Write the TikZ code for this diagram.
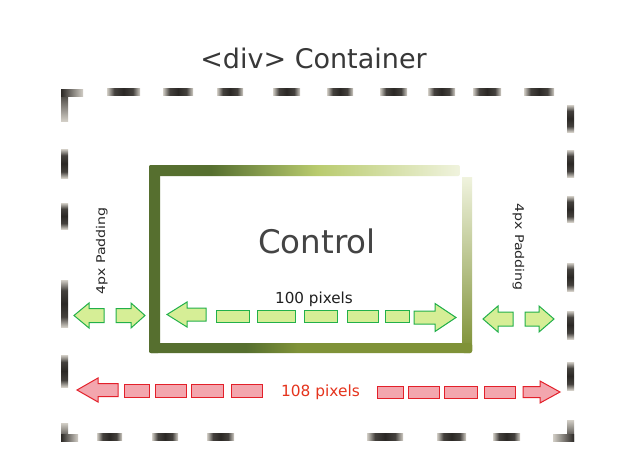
\documentclass[tikz,border=0pt]{standalone}
\usepackage{fontspec}
\setmainfont{DejaVu Sans}
\definecolor{olD}{HTML}{566F2F}
\definecolor{olM}{HTML}{7F9238}
\definecolor{olL}{HTML}{B9CB6E}
\definecolor{olW}{HTML}{F0F3DE}
\definecolor{dC}{HTML}{2B2825}
\definecolor{dE}{HTML}{D2CEC6}
\definecolor{gFill}{HTML}{D6EE96}
\definecolor{gLine}{HTML}{22B04A}
\definecolor{rFill}{HTML}{F3A6AE}
\definecolor{rLine}{HTML}{E3202A}
\definecolor{titleC}{HTML}{383838}
\definecolor{ctrlC}{HTML}{444444}
\definecolor{redT}{HTML}{E5341D}
\pgfdeclarehorizontalshading{topbar}{100bp}{color(0bp)=(olD); color(35bp)=(olD); color(52bp)=(olL); color(75bp)=(olW); color(100bp)=(olW)}
\pgfdeclarehorizontalshading{botbar}{100bp}{color(0bp)=(olD); color(40bp)=(olD); color(48bp)=(olM); color(100bp)=(olM)}
\pgfdeclarehorizontalshading{blurdash}{100bp}{color(0bp)=(dE); color(25bp)=(dE); color(36bp)=(dC!85!dE); color(50bp)=(dC); color(64bp)=(dC!85!dE); color(75bp)=(dE); color(100bp)=(dE)}
\newcommand\hdsh[3]{\shade[shading=blurdash] (#1,#3-3.5) rectangle (#2,#3+3.5);}
\newcommand\vdsh[3]{\shade[shading=blurdash,shading angle=90] (#3-3.5,#1) rectangle (#3+3.5,#2);}
% left-pointing block arrow: tip x, tail x, y, head length, half height, half body
\newcommand\blockL[6]{\filldraw (#1,#3) -- (#1+#4,#3-#5) -- (#1+#4,#3-#6) -- (#2,#3-#6) -- (#2,#3+#6) -- (#1+#4,#3+#6) -- (#1+#4,#3+#5) -- cycle;}
% right-pointing block arrow: tail x, tip x, y, head length, half height, half body
\newcommand\blockR[6]{\filldraw (#2,#3) -- (#2-#4,#3-#5) -- (#2-#4,#3-#6) -- (#1,#3-#6) -- (#1,#3+#6) -- (#2-#4,#3+#6) -- (#2-#4,#3+#5) -- cycle;}
\tikzset{
  garrow/.style={fill=gFill, draw=gLine, line width=1pt, line join=miter},
  rarrow/.style={fill=rFill, draw=rLine, line width=1pt, line join=miter},
  lbl/.style={inner sep=0pt, anchor=base}
}
\begin{document}
\begin{tikzpicture}[x=1pt,y=-1pt]
\useasboundingbox (0,0) rectangle (640,471);
\fill[white] (0,0) rectangle (640,471);

% title
\node[lbl, font=\fontsize{27}{32}\selectfont, text=titleC] (title) at (313.5,68) {<div> Container};

% dashed container: corners
\shade[top color=dC, bottom color=dE] (61,89) rectangle (68,121);
\shade[left color=dC, right color=dE] (61,89) rectangle (83,96);
\shade[top color=dE, bottom color=dC] (61,423) rectangle (68,441);
\shade[left color=dC, right color=dE] (61,434) rectangle (78,441);
\shade[top color=dE, bottom color=dC] (567,420) rectangle (574,441);
\shade[left color=dE, right color=dC] (553,434) rectangle (574,441);
% top side
\hdsh{107}{140}{92}\hdsh{163}{193}{92}\hdsh{217}{243}{92}\hdsh{273}{300}{92}\hdsh{327}{353}{92}
\hdsh{380}{407}{92}\hdsh{428}{455}{92}\hdsh{473}{501}{92}\hdsh{524}{554}{92}
% left side
\vdsh{149}{178}{64.5}\vdsh{203}{229}{64.5}\vdsh{280}{327}{64.5}\vdsh{355}{387}{64.5}
% right side
\vdsh{105}{132}{570.5}\vdsh{150}{177}{570.5}\vdsh{196}{222}{570.5}\vdsh{263}{291}{570.5}
\vdsh{311}{339}{570.5}\vdsh{362}{390}{570.5}
% bottom side
\hdsh{97}{122}{437}\hdsh{152}{178}{437}\hdsh{207}{234}{437}\hdsh{367}{403}{437}
\hdsh{437}{466}{437}\hdsh{493}{520}{437}

% control box frame
\shade[shading=botbar, rounded corners=2pt] (149,343) rectangle (472,353);
\fill[olD, rounded corners=2pt] (149,165) rectangle (160,353);
\shade[shading=topbar, rounded corners=2pt] (149,165) rectangle (460,176);
\shade[top color=olW, middle color=olL!90!olM, bottom color=olM] (462,177) rectangle (472,350);
\fill[olM, rounded corners=2pt] (462,343) rectangle (472,353);

\node[lbl, font=\fontsize{32.5}{38}\selectfont, text=ctrlC] (control) at (317,253) {Control};
\node[lbl, font=\fontsize{15.2}{18}\selectfont, text=black!88] (w100) at (314,303.3) {100 pixels};

% green arrows: left padding
\begin{scope}[garrow]
\blockL{74}{104}{315.5}{15}{12.5}{7}
\blockR{116}{145}{315.5}{14}{12.5}{7}
% inside control
\blockL{167}{206}{314.5}{20}{12.5}{6.5}
\filldraw (216,310) rectangle (249,322);
\filldraw (257,310) rectangle (295,322);
\filldraw (304,310) rectangle (337,322);
\filldraw (347,310) rectangle (378,322);
\filldraw (385,310) rectangle (409,322);
\blockR{414}{456}{317.5}{21}{14}{6.5}
% right padding
\blockL{483}{513}{319}{15}{13}{7}
\blockR{525}{554}{319}{15}{13}{7}
\end{scope}

\node[lbl, rotate=90, font=\fontsize{12}{14}\selectfont, text=black!85] (padL) at (105,251) {\scalebox{1.18}[1]{4px Padding}};
\node[lbl, rotate=-90, font=\fontsize{12}{14}\selectfont, text=black!85] (padR) at (515,247) {\scalebox{1.18}[1]{4px Padding}};

% red arrows
\begin{scope}[rarrow]
\blockL{77}{118}{390}{21}{12}{6.5}
\filldraw (124,384) rectangle (149,397);
\filldraw (155,384) rectangle (186,397);
\filldraw (191,384) rectangle (223,397);
\filldraw (231,384) rectangle (262,397);
\filldraw (377,386) rectangle (403,398);
\filldraw (408,386) rectangle (439,398);
\filldraw (444,386) rectangle (477,398);
\filldraw (484,386) rectangle (515,398);
\blockR{523}{560}{392}{20}{11}{5.5}
\end{scope}
\node[lbl, font=\fontsize{15.4}{18}\selectfont, text=redT] (w108) at (320.5,396.7) {108 pixels};
\end{tikzpicture}
\end{document}
